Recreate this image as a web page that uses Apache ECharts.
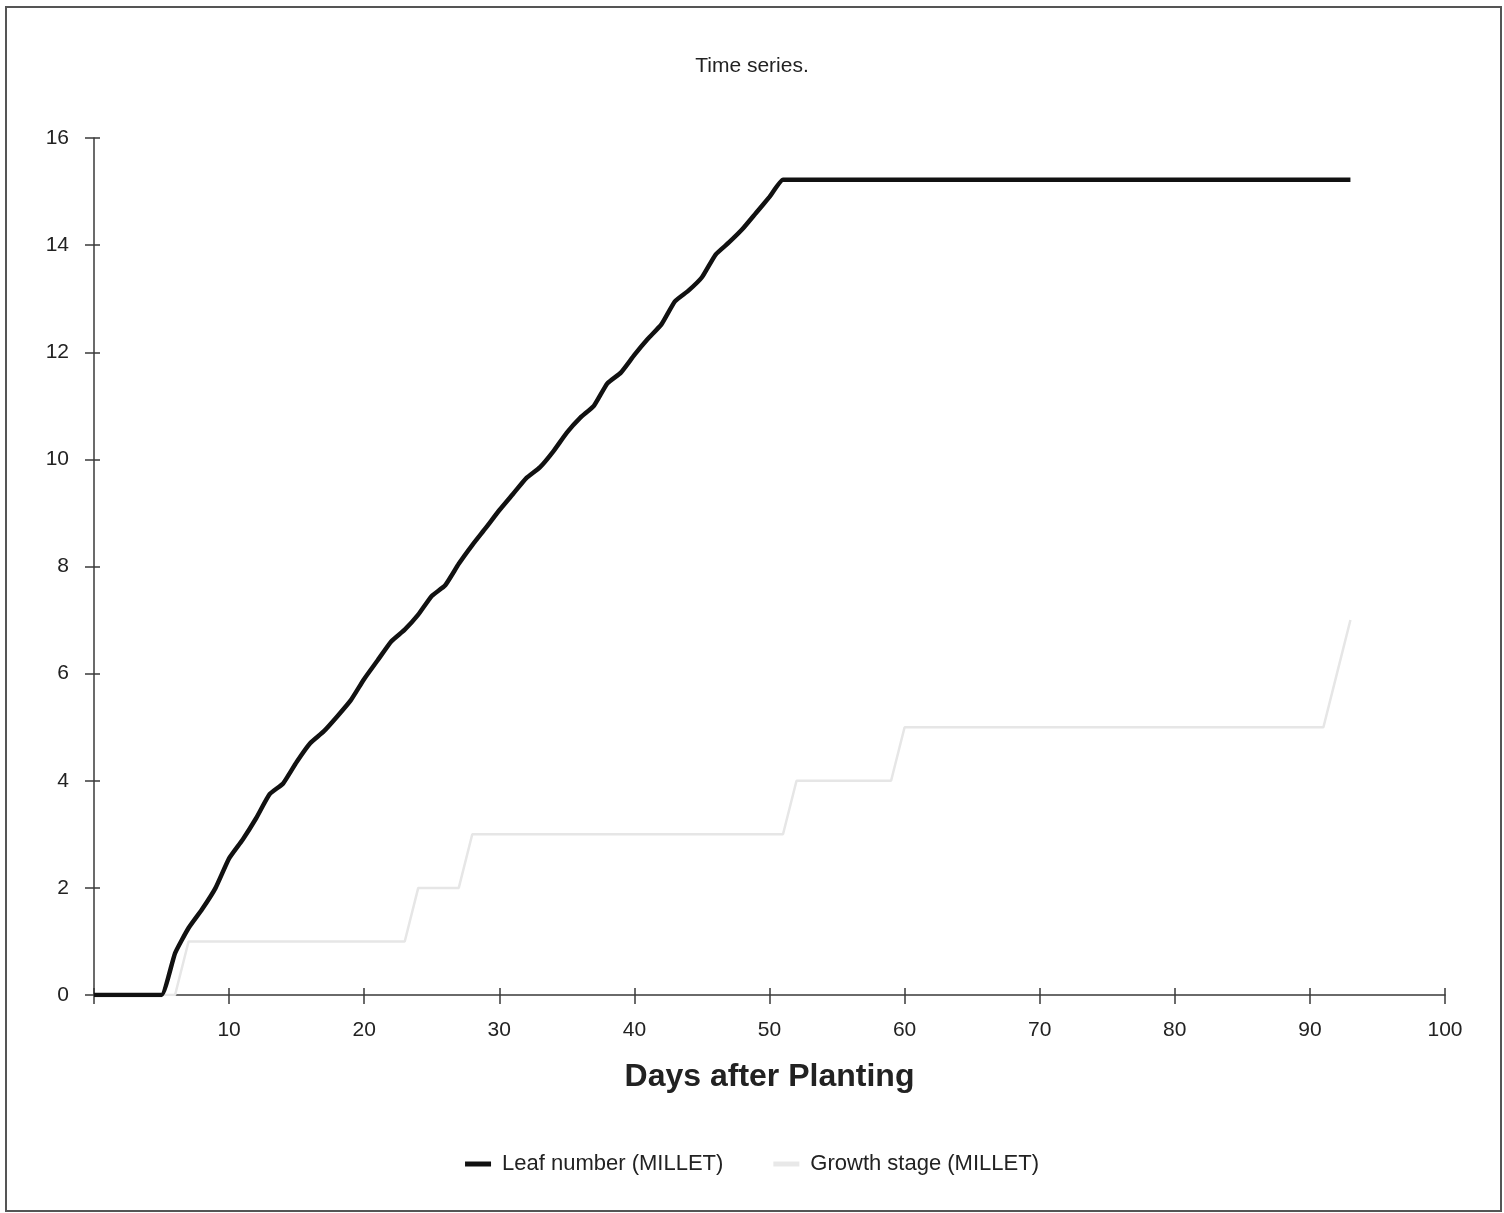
<!DOCTYPE html>
<html>
<head>
<meta charset="utf-8">
<title>Time series.</title>
<script src="https://cdn.jsdelivr.net/npm/echarts@6/dist/echarts.min.js"></script>
<style>
  html, body { margin: 0; padding: 0; background: #fff; }
  #main { width: 1504px; height: 1213px; }
</style>
</head>
<body>
<div id="main"></div>
<script>
// days after planting, 0..93
var days = [];
for (var d = 0; d <= 93; d++) days.push(d);

// leaf number (MILLET), one value per day
var leafNumber = [
  0, 0, 0, 0, 0, 0, 0.78, 1.25, 1.6, 2.0,
  2.55, 2.9, 3.3, 3.75, 3.95, 4.35, 4.7, 4.92, 5.2, 5.5,
  5.9, 6.25, 6.6, 6.82, 7.1, 7.45, 7.65, 8.05, 8.4, 8.72,
  9.05, 9.35, 9.65, 9.85, 10.15, 10.5, 10.78, 11.0, 11.42, 11.62,
  11.95, 12.25, 12.52, 12.95, 13.15, 13.4, 13.82, 14.05, 14.3, 14.6,
  14.9, 15.22, 15.22, 15.22, 15.22, 15.22, 15.22, 15.22, 15.22, 15.22,
  15.22, 15.22, 15.22, 15.22, 15.22, 15.22, 15.22, 15.22, 15.22, 15.22,
  15.22, 15.22, 15.22, 15.22, 15.22, 15.22, 15.22, 15.22, 15.22, 15.22,
  15.22, 15.22, 15.22, 15.22, 15.22, 15.22, 15.22, 15.22, 15.22, 15.22,
  15.22, 15.22, 15.22, 15.22
];

// growth stage (MILLET)
var growthStage = [
  0, 0, 0, 0, 0, 0, 0, 1, 1, 1,
  1, 1, 1, 1, 1, 1, 1, 1, 1, 1,
  1, 1, 1, 1, 2, 2, 2, 2, 3, 3,
  3, 3, 3, 3, 3, 3, 3, 3, 3, 3,
  3, 3, 3, 3, 3, 3, 3, 3, 3, 3,
  3, 3, 4, 4, 4, 4, 4, 4, 4, 4,
  5, 5, 5, 5, 5, 5, 5, 5, 5, 5,
  5, 5, 5, 5, 5, 5, 5, 5, 5, 5,
  5, 5, 5, 5, 5, 5, 5, 5, 5, 5,
  5, 5, 6, 7
];

var seriesNames = ['Leaf number (MILLET)', 'Growth stage (MILLET)'];
var xTicks = { min: 0, max: 100, interval: 10 };
var yTicks = { min: 0, max: 16, interval: 2 };

function pairs(xs, ys) {
  return xs.map(function (x, i) { return [x, ys[i]]; });
}

var font = 'Liberation Sans, Arial, sans-serif';
var axisColor = '#3a3a3a';

var myChart = echarts.init(document.getElementById('main'));

var option = {
  backgroundColor: '#fff',
  textStyle: { fontFamily: font },
  animation: false,
  title: {
    text: 'Time series.',
    left: 'center',
    top: 51,
    textStyle: { fontSize: 21, fontWeight: 'normal', color: '#222', fontFamily: font }
  },
  grid: { left: 94, right: 59, top: 138, bottom: 218, containLabel: false },
  legend: {
    data: [
      { name: seriesNames[0], icon: 'rect', itemStyle: { color: '#111' } },
      { name: seriesNames[1], icon: 'rect', itemStyle: { color: '#e8e8e8' } }
    ],
    bottom: 33,
    left: 'center',
    itemWidth: 26,
    itemHeight: 5,
    itemGap: 50,
    textStyle: { fontSize: 22, color: '#222', fontFamily: font, padding: [0, 0, 0, 6] }
  },
  xAxis: [
    {
      type: 'value',
      min: xTicks.min, max: xTicks.max, interval: xTicks.interval,
      name: 'Days after Planting',
      nameLocation: 'middle',
      nameGap: 66,
      nameTextStyle: { fontSize: 32, fontWeight: 'bold', color: '#222', fontFamily: font },
      axisLine: { show: true, onZero: false, lineStyle: { color: axisColor, width: 1.5 } },
      axisTick: { show: true, length: 9, lineStyle: { color: axisColor, width: 1.5 } },
      axisLabel: {
        fontSize: 21, color: '#222', margin: 25,
        formatter: function (v) { return v === 0 ? '' : v; }
      },
      splitLine: { show: false }
    },
    {
      type: 'value',
      position: 'bottom',
      min: xTicks.min, max: xTicks.max, interval: xTicks.interval,
      axisLine: { show: false },
      axisTick: { show: true, inside: true, length: 7, lineStyle: { color: axisColor, width: 1.5 } },
      axisLabel: { show: false },
      splitLine: { show: false }
    }
  ],
  yAxis: [
    {
      type: 'value',
      min: yTicks.min, max: yTicks.max, interval: yTicks.interval,
      axisLine: { show: true, onZero: false, lineStyle: { color: axisColor, width: 1.5 } },
      axisTick: { show: true, length: 9, lineStyle: { color: axisColor, width: 1.5 } },
      axisLabel: { fontSize: 21, color: '#222', margin: 25 },
      splitLine: { show: false }
    },
    {
      type: 'value',
      position: 'left',
      min: yTicks.min, max: yTicks.max, interval: yTicks.interval,
      axisLine: { show: false },
      axisTick: { show: true, inside: true, length: 6, lineStyle: { color: axisColor, width: 1.5 } },
      axisLabel: { show: false },
      splitLine: { show: false }
    }
  ],
  series: [
    {
      name: seriesNames[1],
      type: 'line',
      data: pairs(days, growthStage),
      showSymbol: false,
      symbol: 'none',
      lineStyle: { color: '#e6e6e6', width: 2.5 },
      itemStyle: { color: '#e8e8e8' },
      z: 2
    },
    {
      name: seriesNames[0],
      type: 'line',
      data: pairs(days, leafNumber),
      showSymbol: false,
      symbol: 'none',
      smooth: 0.15,
      lineStyle: { color: '#111', width: 4.5 },
      itemStyle: { color: '#111' },
      z: 3
    }
  ],
  graphic: [
    {
      type: 'rect',
      shape: { x: 6, y: 7, width: 1495, height: 1204 },
      style: { fill: null, stroke: '#555', lineWidth: 2 },
      silent: true
    }
  ]
};

myChart.setOption(option);
</script>
</body>
</html>
